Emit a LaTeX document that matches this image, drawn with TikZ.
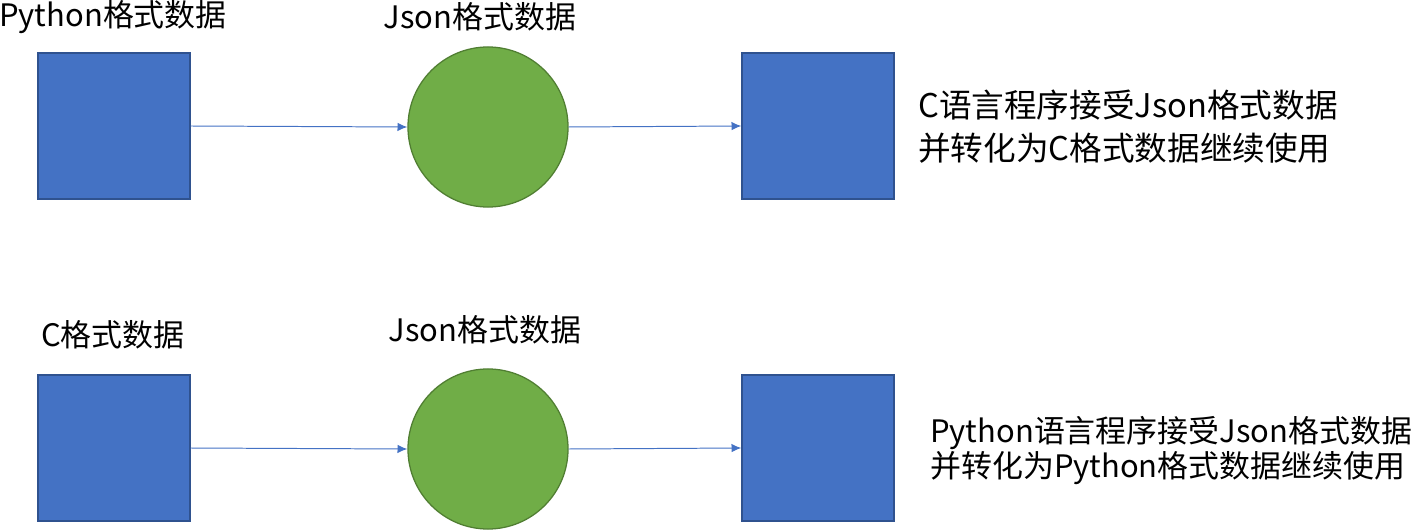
\documentclass[tikz,border=0pt]{standalone}
\usepackage{fontspec}
\setmainfont{Noto Sans CJK SC}
\usetikzlibrary{arrows.meta}
\definecolor{boxblue}{HTML}{4472C4}
\definecolor{boxedge}{HTML}{2F528F}
\definecolor{balls}{HTML}{70AD47}
\definecolor{ballsedge}{HTML}{507E32}
\begin{document}
\begin{tikzpicture}[x=0.025cm,y=-0.025cm,
	box/.style={draw=boxedge,fill=boxblue,line width=0.9pt,minimum width=3.8cm,minimum height=3.65cm,inner sep=0pt},
	ball/.style={circle,draw=ballsedge,fill=balls,line width=0.9pt,minimum size=4cm,inner sep=0pt},
	flow/.style={draw=boxblue,line width=0.7pt,-{Latex[length=7pt,width=6pt]}},
	tag/.style={font=\fontsize{22}{27}\selectfont,inner sep=0pt}]
						\useasboundingbox (0,0) rectangle (1417,530);
						
						% Upper row: Python -> Json -> C
						\node[box]  (P1) at (114,126) {};
						\node[ball] (J1) at (488,127) {};
						\node[box]  (C1) at (818,126) {};
						\node[tag] (P1t) at (113,17) {Python格式数据};
						\node[tag] (J1t) at (480,17) {Json格式数据};
						\node[tag,anchor=west,align=left,font=\fontsize{23.2}{30.6}\selectfont] (C1t) at (918,127)
							{C语言程序接受Json格式数据\\并转化为C格式数据继续使用};
						
						\draw[flow] (P1.east) -- (J1.west);
						\draw[flow] (J1.east) -- (C1.west);
						
						% Lower row: C -> Json -> Python
						\node[box]  (C2) at (114,448) {};
						\node[ball] (J2) at (488,449) {};
						\node[box]  (P2) at (818,448) {};
						\node[tag] (C2t) at (113,335) {C格式数据};
						\node[tag] (J2t) at (485,330) {Json格式数据};
						\node[tag,anchor=west,align=left,font=\fontsize{22}{24.9}\selectfont] (P2t) at (930,451)
							{Python语言程序接受Json格式数据\\并转化为Python格式数据继续使用};
						
						\draw[flow] (C2.east) -- (J2.west);
						\draw[flow] (J2.east) -- (P2.west);
					\end{tikzpicture}
\end{document}
